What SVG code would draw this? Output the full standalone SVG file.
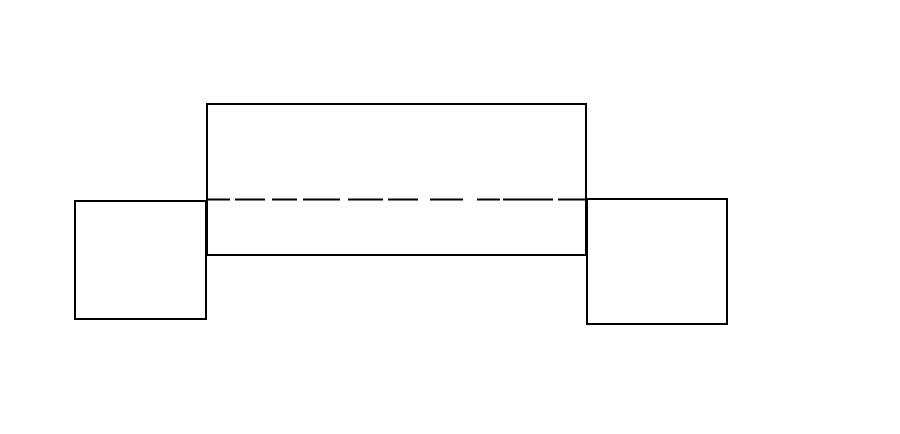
<svg xmlns="http://www.w3.org/2000/svg" width="900" height="434" viewBox="0 0 900 434">
<style>.b{fill:none;stroke:#000;stroke-width:2}</style>
<rect width="900" height="434" fill="#fff"/>
<g id="main"><rect class="b" x="207" y="104" width="379" height="151"/></g>
<g id="left"><rect class="b" x="75" y="201" width="131" height="118"/></g>
<g id="right"><rect class="b" x="587" y="199" width="140" height="125"/></g>
<g id="connectors"><path class="b" d="M207 199.5H230M235 199.5H265M272 199.5H297M303 199.5H340M348 199.5H383M388 199.5H418M430 199.5H463M477 199.5H500M503 199.5H553M558 199.5H587"/></g>
</svg>
